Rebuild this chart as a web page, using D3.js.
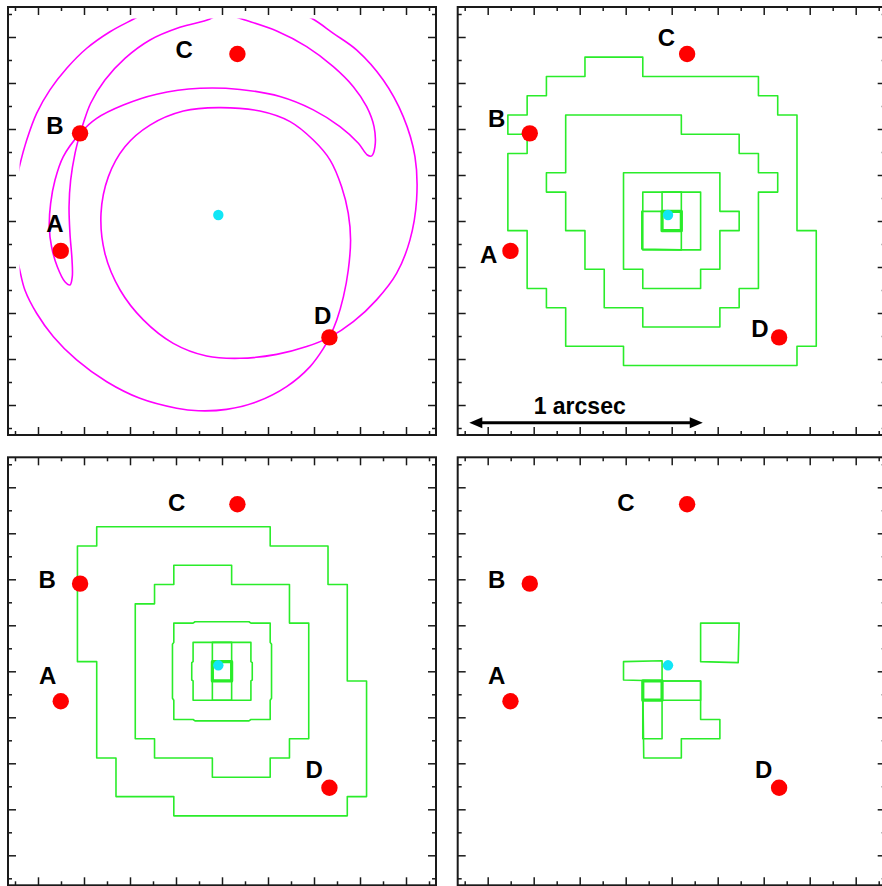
<!DOCTYPE html>
<html>
<head>
<meta charset="utf-8">
<script src="https://cdn.jsdelivr.net/npm/d3@7/dist/d3.min.js"></script>
<style>
  body { margin: 0; background: #fff; }
  svg { display: block; }
</style>
</head>
<body>
<svg id="chart" width="882" height="886"></svg>
<script>

// ---- data (arcsec, relative to the panel centre, y up) ----
var imageNames = ["A", "B", "C", "D"];
var imageX = [-0.701, -0.617, 0.067, 0.467];
var imageY = [-0.130, 0.381, 0.726, -0.506];
var sourceX = -0.016, sourceY = 0.026;

// label anchor (centre, baseline) for each panel
var labelX = [[-0.726, -0.726, -0.164, 0.438],
              [-0.796, -0.761, -0.023, 0.384],
              [-0.758, -0.760, -0.197, 0.401],
              [-0.761, -0.761, -0.199, 0.400]];
var labelY = [[-0.047, 0.377, 0.710, -0.449],
              [-0.184, 0.410, 0.761, -0.503],
              [-0.054, 0.362, 0.698, -0.464],
              [-0.054, 0.362, 0.698, -0.464]];

var tickMajor = [-0.8, -0.6, -0.4, -0.2, 0, 0.2, 0.4, 0.6, 0.8];
var tickMinor = [-0.9, -0.7, -0.5, -0.3, -0.1, 0.1, 0.3, 0.5, 0.7, 0.9];

// scale bar
var barStart = -0.88, barEnd = 0.135, barY = -0.877;
var barText = "1 arcsec", barTextX = -0.40, barTextY = -0.839;

// critical curves, panel 1
var clipBox = 0.88;
var curveOuterTop = [[-0.342,0.900],[-0.386,0.877],[-0.487,0.823],[-0.588,0.751],[-0.675,0.664],
  [-0.748,0.570],[-0.806,0.468],[-0.849,0.352],[-0.881,0.236],[-0.893,0.178]];
var curveLoop = [[-0.893,-0.155],[-0.881,-0.206],[-0.857,-0.300],[-0.806,-0.401],[-0.733,-0.503],
  [-0.632,-0.604],[-0.501,-0.699],[-0.357,-0.771],[-0.197,-0.814],[-0.103,-0.825],[0.020,-0.819],
  [0.151,-0.786],[0.281,-0.720],[0.383,-0.633],[0.441,-0.554],[0.467,-0.506],[0.499,-0.430],
  [0.528,-0.329],[0.549,-0.213],[0.559,-0.083],[0.549,0.033],[0.520,0.149],[0.470,0.265],
  [0.397,0.352],[0.296,0.432],[0.165,0.478],[-0.016,0.493],[-0.168,0.478],[-0.313,0.417],
  [-0.422,0.323],[-0.494,0.193],[-0.526,0.033],[-0.509,-0.141],[-0.443,-0.300],[-0.342,-0.430],
  [-0.212,-0.532],[-0.067,-0.587],[0.078,-0.597],[0.238,-0.580],[0.368,-0.546],[0.467,-0.506],
  [0.571,-0.438],[0.672,-0.343],[0.759,-0.228],[0.817,-0.083],[0.846,0.091],[0.839,0.280],
  [0.788,0.454],[0.701,0.613],[0.586,0.743],[0.484,0.816],[0.397,0.877],[0.339,0.903]];
var curveCrescent = [[-0.023,0.896],[-0.055,0.877],[-0.183,0.842],[-0.313,0.787],[-0.422,0.707],
  [-0.509,0.613],[-0.571,0.512],[-0.603,0.425],[-0.617,0.381],[-0.639,0.294],[-0.658,0.178],
  [-0.665,0.062],[-0.661,-0.054],[-0.652,-0.170],[-0.651,-0.242],[-0.661,-0.278],[-0.683,-0.264],
  [-0.716,-0.199],[-0.741,-0.112],[-0.751,-0.025],[-0.745,0.077],[-0.726,0.178],[-0.690,0.280],
  [-0.617,0.381],[-0.545,0.446],[-0.429,0.504],[-0.284,0.551],[-0.096,0.577],[0.078,0.572],
  [0.252,0.541],[0.397,0.483],[0.513,0.410],[0.593,0.338],[0.632,0.287],[0.651,0.283],
  [0.665,0.323],[0.661,0.410],[0.629,0.497],[0.571,0.584],[0.484,0.671],[0.368,0.758],
  [0.238,0.826],[0.090,0.877],[0.049,0.891]];

// model contours, in map pixels (1 pixel = mapPixel arcsec)
var mapPixel = 0.0838;
var contoursTR = [
  [[-4.5,8.5],[-1.5,8.5],[-1.5,7.5],[4.5,7.5],[4.5,6.5],[5.5,6.5],[5.5,5.5],[6.5,5.5],[6.5,-0.5],
   [7.5,-0.5],[7.5,-6.5],[6.5,-6.5],[6.5,-7.5],[-2.5,-7.5],[-2.5,-6.5],[-5.5,-6.5],[-5.5,-4.5],
   [-6.5,-4.5],[-6.5,-3.5],[-7.5,-3.5],[-7.5,-0.5],[-8.5,-0.5],[-8.5,3.5],[-7.5,3.5],[-7.5,4.5],
   [-8.5,4.5],[-8.5,5.5],[-7.5,5.5],[-7.5,6.5],[-6.5,6.5],[-6.5,7.5],[-4.5,7.5]],
  [[-5.5,5.5],[0.5,5.5],[0.5,4.5],[3.5,4.5],[3.5,3.5],[4.5,3.5],[4.5,2.5],[5.5,2.5],[5.5,1.5],
   [4.5,1.5],[4.5,-3.5],[3.5,-3.5],[3.5,-4.5],[2.5,-4.5],[2.5,-5.5],[-1.5,-5.5],[-1.5,-4.5],
   [-3.5,-4.5],[-3.5,-2.5],[-4.5,-2.5],[-4.5,-0.5],[-5.5,-0.5],[-5.5,1.5],[-6.5,1.5],[-6.5,2.5],
   [-5.5,2.5]],
  [[-2.5,2.5],[2.5,2.5],[2.5,0.5],[3.5,0.5],[3.5,-0.5],[2.5,-0.5],[2.5,-2.5],[1.5,-2.5],[1.5,-3.5],
   [-1.5,-3.5],[-1.5,-2.5],[-2.5,-2.5]],
  [[-1.5,1.5],[1.5,1.5],[1.5,-1.5],[-1.5,-1.5]],
  [[-0.5,1.5],[0.5,1.5],[0.5,-1.5],[-1.55,-1.45],[-1.55,0.5],[-0.5,0.5]]
];
var coreTR = [[-0.5,0.5],[0.5,0.5],[0.5,-0.5],[-0.5,-0.5]];

var contoursBL = [
  [[-6.5,7.5],[2.5,7.5],[2.5,6.5],[5.5,6.5],[5.5,4.5],[6.5,4.5],[6.5,-0.5],[7.5,-0.5],[7.5,-6.5],
   [6.5,-6.5],[6.5,-7.5],[-2.5,-7.5],[-2.5,-6.5],[-5.5,-6.5],[-5.5,-4.5],[-6.5,-4.5],[-6.5,0.5],
   [-7.5,0.5],[-7.5,6.5],[-6.5,6.5]],
  [[-2.5,5.5],[0.5,5.5],[0.5,4.5],[3.5,4.5],[3.5,2.5],[4.5,2.5],[4.5,-3.5],[3.5,-3.5],[3.5,-4.5],
   [2.5,-4.5],[2.5,-5.5],[-0.5,-5.5],[-0.5,-4.5],[-3.5,-4.5],[-3.5,-3.5],[-4.5,-3.5],[-4.5,3.5],
   [-3.5,3.5],[-3.5,4.5],[-2.5,4.5]],
  [[-2.5,2.5],[-1.5,2.5],[-1.4,2.57],[1.4,2.57],[1.5,2.5],[2.5,2.5],[2.5,1.5],[2.57,1.4],[2.57,-1.4],
   [2.5,-1.5],[2.5,-2.5],[1.5,-2.5],[1.4,-2.57],[-1.4,-2.57],[-1.5,-2.5],[-2.5,-2.5],[-2.5,-1.5],
   [-2.57,-1.4],[-2.57,1.4],[-2.5,1.5]],
  [[-1.5,1.5],[1.5,1.5],[1.5,0.5],[1.57,0.45],[1.57,-0.45],[1.5,-0.5],[1.5,-1.5],[-1.5,-1.5],
   [-1.5,-0.5],[-1.57,-0.45],[-1.57,0.45],[-1.5,0.5]],
  [[-0.5,1.5],[0.5,1.5],[0.5,-1.5],[-0.5,-1.5]]
];
var coreBL = [[-0.5,0.5],[0.5,0.5],[0.5,-0.5],[-0.5,-0.5]];

var contoursBR = [
  [[1.5,2.5],[3.5,2.5],[3.45,0.45],[1.5,0.5]],
  [[-2.5,0.5],[-0.5,0.55],[-0.5,-0.5],[-2.5,-0.45]],
  [[-1.5,-0.5],[1.5,-0.5],[1.5,-1.5],[-1.5,-1.5]],
  [[-1.5,-0.5],[-0.5,-0.5],[-0.5,-3.5],[-1.5,-3.5]],
  [[-1.5,-0.5],[1.5,-0.5],[1.5,-2.5],[2.5,-2.5],[2.5,-3.5],[0.5,-3.5],[0.5,-4.5],[-1.45,-4.5]]
];
var coreBR = [[-1.5,-0.5],[-0.5,-0.5],[-0.5,-1.5],[-1.5,-1.5]];

// ---- layout ----
var size = 428,
    half = 0.9304,
    panelLeft = [8, 457.7, 8, 457.7],
    panelTop = [7, 7, 457.3, 457.3];

var svg = d3.select("#chart");

var x = d3.scaleLinear().domain([-half, half]).range([0, size]);
var y = d3.scaleLinear().domain([-half, half]).range([size, 0]);

var smoothLine = d3.line()
    .x(function(d) { return x(d[0]); })
    .y(function(d) { return y(d[1]); })
    .curve(d3.curveCatmullRom.alpha(0.5));

var gridLine = d3.line()
    .x(function(d) { return x(d[0] * mapPixel); })
    .y(function(d) { return y(d[1] * mapPixel); })
    .curve(d3.curveLinearClosed);

var panels = [];
for (var p = 0; p < 4; p++) {
  panels.push(svg.append("g")
    .attr("class", "panel p" + p)
    .attr("transform", "translate(" + panelLeft[p] + "," + panelTop[p] + ")"));
}

// clip for the critical curves
svg.append("defs").append("clipPath").attr("id", "curveClip")
  .append("rect")
    .attr("x", x(-clipBox)).attr("y", y(clipBox))
    .attr("width", x(clipBox) - x(-clipBox))
    .attr("height", y(-clipBox) - y(clipBox));

// ================= panel 1: critical curves
var curves = panels[0].append("g").attr("clip-path", "url(#curveClip)");
[curveOuterTop, curveLoop, curveCrescent].forEach(function(c) {
  curves.append("path")
    .attr("d", smoothLine(c))
    .attr("fill", "none")
    .attr("stroke", "#ff00ff")
    .attr("stroke-width", 1.6);
});

// ================= panels 2-4: contours
function drawContours(g, list, core) {
  list.forEach(function(c) {
    g.append("path")
      .attr("d", gridLine(c))
      .attr("fill", "none")
      .attr("stroke", "#2aec2a")
      .attr("stroke-width", 1.6)
      .attr("stroke-linejoin", "round");
  });
  g.append("path")
    .attr("d", gridLine(core))
    .attr("fill", "none")
    .attr("stroke", "#2aec2a")
    .attr("stroke-width", 3.2)
    .attr("stroke-linejoin", "round");
}
drawContours(panels[1], contoursTR, coreTR);
drawContours(panels[2], contoursBL, coreBL);
drawContours(panels[3], contoursBR, coreBR);

// ================= images, source, labels
panels.forEach(function(g, p) {
  g.selectAll("circle.img")
    .data(imageNames)
    .enter().append("circle")
      .attr("class", "img")
      .attr("cx", function(d, i) { return x(imageX[i]); })
      .attr("cy", function(d, i) { return y(imageY[i]); })
      .attr("r", 8.2)
      .style("fill", "#ff0000");

  g.append("circle")
    .attr("cx", x(sourceX))
    .attr("cy", y(sourceY))
    .attr("r", 5.2)
    .style("fill", "#11e6f6");

  g.selectAll("text.lab")
    .data(imageNames)
    .enter().append("text")
      .attr("class", "lab")
      .attr("x", function(d, i) { return x(labelX[p][i]); })
      .attr("y", function(d, i) { return y(labelY[p][i]); })
      .attr("text-anchor", "middle")
      .style("font-family", "'Liberation Sans', Arial, sans-serif")
      .style("font-weight", "bold")
      .style("font-size", "24px")
      .style("fill", "#000")
      .text(function(d) { return d; });
});

// ================= frames and ticks
panels.forEach(function(g) {
  var axes = [
    [d3.axisTop(x), "translate(0,0)"],
    [d3.axisBottom(x), "translate(0," + size + ")"],
    [d3.axisLeft(y), "translate(0,0)"],
    [d3.axisRight(y), "translate(" + size + ",0)"]
  ];
  axes.forEach(function(a) {
    g.append("g").attr("class", "axis").attr("transform", a[1])
      .call(a[0].tickValues(tickMajor).tickSize(-8).tickFormat(""));
    g.append("g").attr("class", "axis").attr("transform", a[1])
      .call(a[0].tickValues(tickMinor).tickSize(-4).tickFormat(""));
  });
  g.selectAll(".axis .domain").remove();
  g.selectAll(".axis line").attr("stroke", "#1a1a1a").attr("stroke-width", 1.5);

  g.append("rect")
    .attr("width", size).attr("height", size)
    .attr("fill", "none")
    .attr("stroke", "#1a1a1a")
    .attr("stroke-width", 2);
});

// ================= scale bar (panel 2)
var bar = panels[1].append("g").attr("class", "scalebar");
var bx0 = x(barStart), bx1 = x(barEnd), by = y(barY), head = 13, hw = 5.5;
bar.append("line")
  .attr("x1", bx0 + head - 1).attr("x2", bx1 - head + 1)
  .attr("y1", by).attr("y2", by)
  .attr("stroke", "#000").attr("stroke-width", 3);
bar.append("path")
  .attr("d", "M" + bx0 + "," + by + "L" + (bx0 + head) + "," + (by - hw) + "L" + (bx0 + head) + "," + (by + hw) + "Z")
  .attr("fill", "#000");
bar.append("path")
  .attr("d", "M" + bx1 + "," + by + "L" + (bx1 - head) + "," + (by - hw) + "L" + (bx1 - head) + "," + (by + hw) + "Z")
  .attr("fill", "#000");
bar.append("text")
  .attr("x", x(barTextX)).attr("y", y(barTextY))
  .attr("text-anchor", "middle")
  .style("font-family", "'Liberation Sans', Arial, sans-serif")
  .style("font-weight", "bold")
  .style("font-size", "23px")
  .text(barText);

</script>
</body>
</html>
